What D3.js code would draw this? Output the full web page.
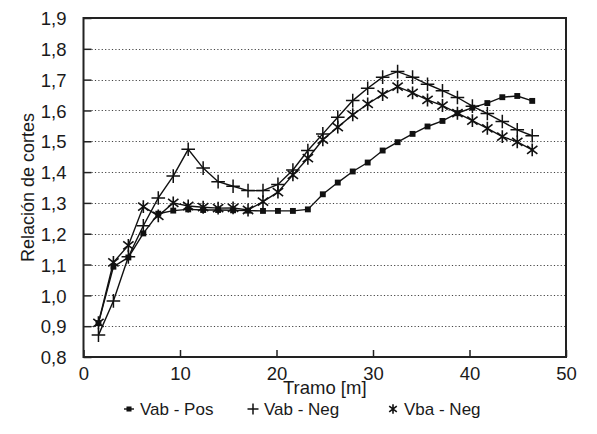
<!DOCTYPE html>
<html>
<head>
<meta charset="utf-8">
<script src="https://cdn.jsdelivr.net/npm/d3@7"></script>
<style>
  body { margin: 0; background: #fff; }
  svg text { font-family: "Liberation Sans", Arial, sans-serif; fill: #1a1a1a; }
</style>
</head>
<body>
<div id="chart"></div>
<script>
// data
var tramo = [1.55, 3.1, 4.65, 6.2, 7.75, 9.3, 10.85, 12.4, 13.95, 15.5,
             17.05, 18.6, 20.15, 21.7, 23.25, 24.8, 26.35, 27.9, 29.45, 31.0,
             32.55, 34.1, 35.65, 37.2, 38.75, 40.3, 41.85, 43.4, 44.95, 46.5];
var vabPos = [0.91, 1.093, 1.123, 1.201, 1.265, 1.275, 1.279, 1.277, 1.277, 1.276,
              1.275, 1.274, 1.274, 1.274, 1.279, 1.328, 1.366, 1.402, 1.431, 1.47,
              1.497, 1.524, 1.548, 1.566, 1.591, 1.609, 1.624, 1.643, 1.647, 1.631];
var vabNeg = [0.871, 0.982, 1.125, 1.226, 1.316, 1.387, 1.474, 1.413, 1.369, 1.354,
              1.34, 1.34, 1.36, 1.407, 1.47, 1.524, 1.578, 1.632, 1.672, 1.708,
              1.726, 1.708, 1.685, 1.664, 1.642, 1.614, 1.59, 1.564, 1.537, 1.518];
var vbaNeg = [0.911, 1.107, 1.162, 1.288, 1.258, 1.3, 1.29, 1.286, 1.283, 1.284,
              1.277, 1.304, 1.335, 1.391, 1.445, 1.505, 1.546, 1.586, 1.621, 1.652,
              1.677, 1.657, 1.634, 1.616, 1.591, 1.567, 1.542, 1.515, 1.498, 1.472];
var yTicks = [0.8, 0.9, 1.0, 1.1, 1.2, 1.3, 1.4, 1.5, 1.6, 1.7, 1.8, 1.9];
var xTicks = [0, 10, 20, 30, 40, 50];
var seriesNames = ["Vab - Pos", "Vab - Neg", "Vba - Neg"];

var W = 597, H = 434;
var margin = { top: 18, right: 31, bottom: 77, left: 83.5 };
var width = W - margin.left - margin.right;
var height = H - margin.top - margin.bottom;

var svg = d3.select("#chart").append("svg")
  .attr("width", W)
  .attr("height", H);

var g = svg.append("g")
  .attr("transform", "translate(" + margin.left + "," + margin.top + ")");

var x = d3.scaleLinear().domain([0, 50]).range([0, width]);
var y = d3.scaleLinear().domain([0.8, 1.9]).range([height, 0]);

var fmt = function(d) { return d3.format(".1f")(d).replace(".", ","); };

// dotted grid
g.selectAll(".grid")
  .data(yTicks.filter(function(d) { return d > 0.81 && d < 1.89; }))
  .enter().append("line")
  .attr("x1", 8).attr("x2", width)
  .attr("y1", function(d) { return Math.round(y(d)) + 0.5; })
  .attr("y2", function(d) { return Math.round(y(d)) + 0.5; })
  .attr("stroke", "#444")
  .attr("stroke-width", 1)
  .attr("stroke-dasharray", "1.2,2.2");

// axes, ticks pointing inward
var yAxis = g.append("g")
  .call(d3.axisLeft(y).tickValues(yTicks).tickSize(-8).tickPadding(17).tickFormat(fmt));
var xAxis = g.append("g")
  .attr("transform", "translate(0," + height + ")")
  .call(d3.axisBottom(x).tickValues(xTicks).tickSize(-7).tickPadding(10).tickFormat(d3.format("d")));

[yAxis, xAxis].forEach(function(a) {
  a.select(".domain").remove();
  a.selectAll("line").attr("stroke", "#222").attr("stroke-width", 1.5);
  a.selectAll("text").style("font-size", "18.5px").attr("fill", "#1a1a1a");
});
yAxis.selectAll("text").attr("dy", "0.36em");

// frame
g.append("rect")
  .attr("x", 0).attr("y", 0)
  .attr("width", width).attr("height", height)
  .attr("fill", "none")
  .attr("stroke", "#222")
  .attr("stroke-width", 2);

// series
var line = d3.line()
  .x(function(d) { return x(d[0]); })
  .y(function(d) { return y(d[1]); });

var allSeries = [vabPos, vabNeg, vbaNeg].map(function(vals) {
  return vals.map(function(v, i) { return [tramo[i], v]; });
});

function drawMarker(sel, type, s) {
  if (type == 0) {
    sel.append("rect")
      .attr("x", -s * 0.42).attr("y", -s * 0.42)
      .attr("width", s * 0.84).attr("height", s * 0.84)
      .attr("fill", "#111");
  } else if (type == 1) {
    sel.append("path")
      .attr("d", "M" + (-s) + ",0H" + s + "M0," + (-s) + "V" + s)
      .attr("stroke", "#111").attr("stroke-width", 1.5).attr("fill", "none");
  } else {
    var r = s * 0.95, a = r * 0.8, b = r * 0.62;
    sel.append("path")
      .attr("d", "M0," + (-r) + "V" + r +
                 "M" + (-a) + "," + (-b) + "L" + a + "," + b +
                 "M" + (-a) + "," + b + "L" + a + "," + (-b))
      .attr("stroke", "#111").attr("stroke-width", 1.6).attr("fill", "none");
  }
}

allSeries.forEach(function(data, si) {
  g.append("path")
    .attr("d", line(data))
    .attr("fill", "none")
    .attr("stroke", "#111")
    .attr("stroke-width", 1.4);
});

allSeries.forEach(function(data, si) {
  data.forEach(function(d) {
    var m = g.append("g")
      .attr("transform", "translate(" + x(d[0]) + "," + y(d[1]) + ")");
    drawMarker(m, si, si == 0 ? 7 : 6.8);
  });
});

// axis titles
svg.append("text")
  .attr("x", margin.left + width / 2)
  .attr("y", 394)
  .attr("text-anchor", "middle")
  .style("font-size", "18.5px")
  .text("Tramo [m]");

svg.append("text")
  .attr("transform", "translate(34," + (margin.top + height / 2) + ") rotate(-90)")
  .attr("text-anchor", "middle")
  .style("font-size", "18px")
  .text("Relación de cortes");

// legend
var legendX = [129, 253, 393];
seriesNames.forEach(function(name, i) {
  var lg = svg.append("g").attr("transform", "translate(" + legendX[i] + ",409)");
  if (i == 0) {
    lg.append("line").attr("x1", -5).attr("x2", 5).attr("y1", 0).attr("y2", 0)
      .attr("stroke", "#111").attr("stroke-width", 1.4);
    drawMarker(lg, 0, 6);
  } else {
    drawMarker(lg, i, i == 1 ? 5.5 : 5);
  }
  lg.append("text")
    .attr("x", 11)
    .attr("dy", "0.36em")
    .style("font-size", "17px")
    .text(name);
});
</script>
</body>
</html>
